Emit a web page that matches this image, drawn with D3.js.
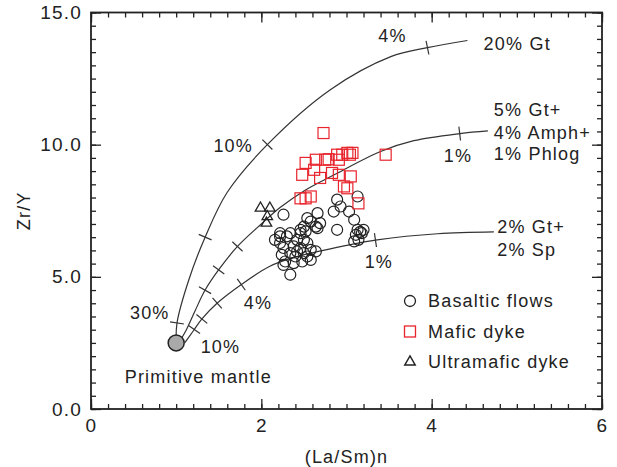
<!DOCTYPE html>
<html>
<head>
<meta charset="utf-8">
<script src="https://cdn.jsdelivr.net/npm/d3@7"></script>
<style>
    body { margin: 0; background: #fff; }
    text { font-family: "Liberation Sans", Arial, sans-serif; fill: #222; letter-spacing: 1.2px; }
</style>
</head>
<body>
<svg id="chart" width="617" height="467"></svg>
<script>
// axis ticks
const xMajor = [0, 2, 4, 6]
const yMajor = [0, 5, 10, 15]

// Zr/Y vs (La/Sm)n
const basaltic = [
    [3.13, 8.04], [2.89, 7.92], [2.93, 7.66], [2.85, 7.47], [3.03, 7.47], [3.09, 7.16], [2.89, 6.78],
    [3.13, 6.78], [3.2, 6.78], [3.11, 6.59], [3.14, 6.4], [3.09, 6.34], [3.18, 6.65], [3.16, 6.7],
    [2.66, 7.41], [2.69, 7.03], [2.64, 6.9], [2.54, 7.22], [2.58, 7.09], [2.5, 6.9], [2.66, 6.84],
    [2.46, 6.78], [2.34, 6.65], [2.26, 7.35], [2.16, 6.4], [2.3, 6.53], [2.22, 6.65],
    [2.42, 6.4], [2.5, 6.4], [2.54, 6.28], [2.38, 6.15], [2.46, 6.09], [2.42, 5.96], [2.5, 5.9],
    [2.34, 5.9], [2.58, 6.02], [2.64, 5.96], [2.54, 5.77], [2.4, 5.77], [2.26, 6.09], [2.22, 6.28],
    [2.58, 5.64], [2.28, 5.58], [2.26, 5.45], [2.38, 5.52], [2.34, 5.08], [2.48, 5.58], [2.46, 6.65],
    [2.52, 6.72], [2.24, 5.83], [2.22, 6.53]
]
const maficDyke = [
    [2.73, 10.44], [2.52, 9.31], [2.64, 9.43], [2.75, 9.43], [2.89, 9.62], [2.95, 9.62], [3.01, 9.69],
    [3.07, 9.69], [3.04, 9.62], [2.91, 9.43], [2.48, 8.86], [2.62, 9.05], [2.69, 8.74], [2.83, 8.93],
    [2.91, 8.86], [3.05, 8.8], [3.01, 8.35], [3.14, 7.78], [2.46, 7.97], [2.52, 7.97], [2.58, 8.04],
    [3.46, 9.62], [2.97, 8.42], [2.79, 9.45]
]
const ultramaficDyke = [[1.99, 7.6], [2.1, 7.6], [2.07, 7.28], [2.06, 7.03]]
const primitiveMantle = [1.0, 2.5]

// melting curves and their % marks
const curveGt = [[1.0, 2.5], [1.01, 3.26], [1.15, 4.9], [1.34, 6.5], [1.6, 8.2], [2.07, 10.0],
    [2.81, 12.08], [3.52, 13.33], [3.95, 13.67], [4.42, 13.94]]
const curveAmph = [[1.03, 2.5], [1.12, 3.0], [1.22, 3.7], [1.34, 4.5], [1.5, 5.27], [1.72, 6.15],
    [2.0, 7.0], [2.22, 7.62], [2.5, 8.25], [2.85, 8.85], [3.4, 9.74], [3.79, 10.15], [4.33, 10.42], [4.66, 10.52]]
const curveSp = [[1.1, 2.5], [1.2, 2.95], [1.3, 3.4], [1.48, 4.0], [1.77, 4.72], [2.1, 5.4], [2.4, 5.75],
    [2.7, 5.98], [3.05, 6.22], [3.36, 6.4], [4.07, 6.63], [4.73, 6.7]]
const ticksGt = [[1.01, 3.26], [1.34, 6.5], [2.07, 10.0], [3.95, 13.67]]
const ticksAmph = [[1.34, 4.5], [1.5, 5.27], [1.72, 6.15], [4.33, 10.42]]
const ticksSp = [[1.22, 3.0], [1.29, 3.44], [1.48, 4.0], [1.77, 4.7], [3.34, 6.4]]

const labelText = ["4%", "20% Gt", "5% Gt+", "4% Amph+", "1% Phlog", "1%", "10%", "2% Gt+", "2% Sp", "1%", "4%", "30%", "10%", "Primitive mantle"]
const labelPos = [[3.54, 14.11], [4.61, 13.81], [4.73, 11.31], [4.73, 10.44], [4.73, 9.65], [4.31, 9.57],
    [1.67, 9.95], [4.77, 6.9], [4.77, 6.02], [3.38, 5.56], [1.96, 4.01], [0.69, 3.63], [1.52, 2.35], [1.26, 1.21]]
const labelAnchor = ["middle", "start", "start", "start", "start", "middle", "middle", "start", "start", "middle", "middle", "middle", "middle", "middle"]

const legendNames = ["Basaltic flows", "Mafic dyke", "Ultramafic dyke"]

const svg = d3.select("#chart")
const x = d3.scaleLinear().domain([0, 6]).range([91, 602])
const y = d3.scaleLinear().domain([0, 15]).range([409, 12.5])
const ink = "#222"
const red = "#e8242c"

// axes, ticks inward on all four sides
const xMinor = d3.range(0, 6.001, 0.2)
const yMinor = d3.range(0, 15.001, 0.5)

function drawAxis(axis, tr, vals, size, labels) {
    const g = svg.append("g").attr("transform", tr)
        .call(axis.tickValues(vals).tickSize(-size).tickPadding(labels ? 10 : 0))
    g.select(".domain").remove()
    g.selectAll("line").attr("stroke", ink).attr("stroke-width", 1.3)
    g.selectAll("text").style("font-size", "19px").attr("fill", ink)
    if (!labels) g.selectAll("text").remove()
    return g
}

drawAxis(d3.axisBottom(x), "translate(0," + y(0) + ")", xMinor, 5, false)
drawAxis(d3.axisBottom(x).tickFormat(d3.format("d")), "translate(0," + y(0) + ")", xMajor, 10, true)
drawAxis(d3.axisTop(x), "translate(0," + y(15) + ")", xMinor, 5, false)
drawAxis(d3.axisTop(x), "translate(0," + y(15) + ")", xMajor, 10, false)
drawAxis(d3.axisLeft(y), "translate(" + x(0) + ",0)", yMinor, 5, false)
drawAxis(d3.axisLeft(y).tickFormat(d3.format(".1f")), "translate(" + x(0) + ",0)", yMajor, 10, true)
    .selectAll("text").attr("x", -9)
drawAxis(d3.axisRight(y), "translate(" + x(6) + ",0)", yMinor, 5, false)
drawAxis(d3.axisRight(y), "translate(" + x(6) + ",0)", yMajor, 10, false)

svg.append("rect")
    .attr("x", x(0)).attr("y", y(15))
    .attr("width", x(6) - x(0)).attr("height", y(0) - y(15))
    .attr("fill", "none").attr("stroke", ink).attr("stroke-width", 1.8)

svg.append("text").attr("x", x(3)).attr("y", 457).attr("dy", "0.35em")
    .attr("text-anchor", "middle").style("font-size", "18px").text("(La/Sm)n")
svg.append("text").attr("transform", "translate(24," + y(7.5) + ") rotate(-90)")
    .attr("dy", "0.35em").attr("text-anchor", "middle").style("font-size", "18px").text("Zr/Y")

// curves
const line = d3.line().x(d => x(d[0])).y(d => y(d[1])).curve(d3.curveCatmullRom.alpha(0.5))

function drawCurve(pts, ticks) {
    const path = svg.append("path").datum(pts)
        .attr("d", line).attr("fill", "none").attr("stroke", "#333").attr("stroke-width", 1.2)
    const node = path.node()
    const L = node.getTotalLength()
    const samples = d3.range(0, L, 0.5).map(l => ({l: l, p: node.getPointAtLength(l)}))
    ticks.forEach(t => {
        const px = x(t[0]), py = y(t[1])
        const best = d3.least(samples, s => (s.p.x - px) ** 2 + (s.p.y - py) ** 2)
        const a = node.getPointAtLength(Math.max(0, best.l - 3))
        const b = node.getPointAtLength(Math.min(L, best.l + 3))
        const len = Math.hypot(b.x - a.x, b.y - a.y)
        const nx = -(b.y - a.y) / len, ny = (b.x - a.x) / len
        svg.append("line")
            .attr("x1", best.p.x - nx * 7).attr("y1", best.p.y - ny * 7)
            .attr("x2", best.p.x + nx * 7).attr("y2", best.p.y + ny * 7)
            .attr("stroke", "#333").attr("stroke-width", 1.2)
    })
}

drawCurve(curveGt, ticksGt)
drawCurve(curveAmph, ticksAmph)
drawCurve(curveSp, ticksSp)

// data points
svg.append("g").selectAll("circle").data(basaltic).join("circle")
    .attr("cx", d => x(d[0])).attr("cy", d => y(d[1])).attr("r", 5.5)
    .attr("fill", "none").attr("stroke", ink).attr("stroke-width", 1.2)

svg.append("g").selectAll("rect").data(maficDyke).join("rect")
    .attr("x", d => x(d[0]) - 5.5).attr("y", d => y(d[1]) - 5.5)
    .attr("width", 11).attr("height", 11)
    .attr("fill", "none").attr("stroke", red).attr("stroke-width", 1.2)

const tri = d3.symbol().type(d3.symbolTriangle).size(48)
svg.append("g").selectAll("path").data(ultramaficDyke).join("path")
    .attr("transform", d => "translate(" + x(d[0]) + "," + y(d[1]) + ")")
    .attr("d", tri).attr("fill", "none").attr("stroke", ink).attr("stroke-width", 1.3)

svg.append("circle")
    .attr("cx", x(primitiveMantle[0])).attr("cy", y(primitiveMantle[1])).attr("r", 8)
    .attr("fill", "#a9a9a9").attr("stroke", ink).attr("stroke-width", 1.5)

// annotations
svg.append("g").selectAll("text").data(labelText).join("text")
    .attr("x", (d, i) => x(labelPos[i][0])).attr("y", (d, i) => y(labelPos[i][1]))
    .attr("dy", "0.35em").attr("text-anchor", (d, i) => labelAnchor[i])
    .style("font-size", "18px").text(d => d)

// legend
const leg = svg.append("g").attr("transform", "translate(410,301)")
legendNames.forEach((name, i) => {
    const g = leg.append("g").attr("transform", "translate(0," + i * 30.5 + ")")
    if (i === 0) g.append("circle").attr("r", 5.5).attr("fill", "none").attr("stroke", ink).attr("stroke-width", 1.3)
    if (i === 1) g.append("rect").attr("x", -5.5).attr("y", -5.5).attr("width", 11).attr("height", 11)
        .attr("fill", "none").attr("stroke", red).attr("stroke-width", 1.3)
    if (i === 2) g.append("path").attr("d", tri).attr("fill", "none").attr("stroke", ink).attr("stroke-width", 1.4)
    g.append("text").attr("x", 18).attr("dy", "0.35em").style("font-size", "18px").text(name)
})
</script>
</body>
</html>
